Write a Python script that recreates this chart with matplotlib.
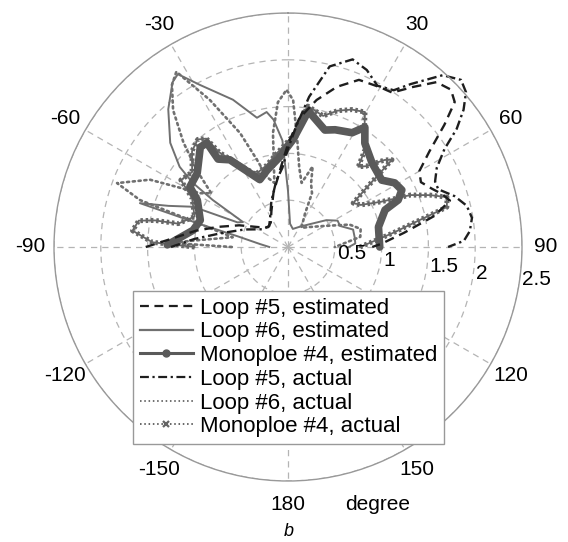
import numpy as np
import matplotlib
matplotlib.use("Agg")
import matplotlib.pyplot as plt
from matplotlib.lines import Line2D

plt.rcParams['font.family'] = ['Liberation Sans', 'DejaVu Sans']

# angles in degrees (0 = up, clockwise), radius
loop5_est_theta = [-90, -86, -80, -74, -66, -56, -45, -35, -25, -15, -5, 0, 5, 11, 17, 23,
                   30, 34, 38, 42, 46, 49, 52, 56, 60, 64, 68, 71, 74, 78, 83, 88, 90]
loop5_est_r = [1.52, 1.25, 1.0, 0.78, 0.57, 0.38, 0.3, 0.32, 0.42, 0.6, 0.86, 1.1, 1.38, 1.6,
               1.79, 1.94, 1.97, 1.99, 2.17, 2.37, 2.42, 2.36, 2.12, 1.82, 1.62, 1.58, 1.66,
               1.74, 1.80, 1.6, 1.25, 1.0, 0.9]

loop5_act_theta = [-90, -85, -78, -68, -55, -42, -30, -20, -10, -4, 0, 4, 8, 13, 19, 24, 29,
                   34, 37, 42, 46, 49, 52, 55, 58, 62, 66, 69, 73, 77, 81, 85, 88, 90]
loop5_act_r = [1.25, 1.0, 0.72, 0.5, 0.33, 0.3, 0.38, 0.52, 0.72, 0.85, 1.05, 1.3, 1.62, 1.98,
               2.12, 2.07, 1.97, 2.02, 2.18, 2.47, 2.57, 2.52, 2.38, 2.2, 1.97, 1.8, 1.72, 1.72,
               1.86, 1.96, 1.99, 1.95, 1.88, 1.71]

loop6_est_theta = [-90, -84, -78, -75.5, -73.5, -71, -67, -64, -61, -58, -56, -53.5, -48.5, -41,
                   -35, -32.5, -28.5, -20.5, -13.5, -9, -6.5, -3, 0, 5, 15, 30, 45, 55, 62, 68,
                   75, 82, 87, 90]
loop6_est_r = [0.2, 0.3, 0.55, 0.95, 1.65, 1.35, 1.1, 0.6, 0.55, 0.95, 1.23, 1.44, 1.68, 1.95,
               2.15, 2.19, 1.97, 1.68, 1.42, 1.46, 1.37, 1.14, 0.6, 0.25, 0.2, 0.25, 0.35, 0.5,
               0.6, 0.6, 0.72, 0.72, 0.72, 0.65]

loop6_act_theta = [-90, -88, -86, -80, -74, -72.4, -69.5, -64, -58.5, -55, -50, -45, -40, -35.6,
                   -32.5, -28, -22.8, -19.6, -16.7, -12, -7.5, -4, -0.5, 2, 4.7, 8, 12, 17, 20,
                   24, 27, 35, 45, 60, 70, 76, 82, 88, 90]
loop6_act_r = [0.6, 1.25, 1.0, 0.6, 1.2, 1.66, 1.95, 1.64, 1.1, 1.0, 1.27, 1.58, 1.91, 2.13,
               2.22, 1.78, 1.32, 0.99, 0.78, 0.7, 1.23, 1.55, 1.68, 1.57, 1.18, 0.86, 0.7, 0.9,
               0.72, 0.63, 0.4, 0.25, 0.3, 0.45, 0.7, 0.8, 0.78, 0.55, 0.5]

mono_est_theta = [-89, -80, -73, -62.7, -58.5, -50.9, -41.3, -37.9, -38.5, -33.7, -22.7, -15.3,
                  -5, 2.7, 8.5, 17.5, 21.9, 29.3, 32.7, 36.5, 45, 54.5, 59, 63.4, 66.9, 69.1,
                  77.5, 90]
mono_est_r = [1.29, 1.03, 0.98, 1.09, 1.23, 1.25, 1.42, 1.41, 1.20, 1.12, 0.78, 0.85, 0.97,
              1.15, 1.47, 1.31, 1.35, 1.40, 1.52, 1.38, 1.27, 1.23, 1.33, 1.36, 1.28, 1.11,
              0.99, 0.98]

mono_act_theta = [-90, -88, -84, -80, -78.7, -78, -72, -63, -58, -52, -45, -40, -37, -36, -30,
                  -24, -15, -6, 3, 8, 15, 20, 25, 29.7, 33, 38.4, 41.2, 44, 48, 50, 53, 56, 60,
                  64, 67, 70, 72.6, 75.9, 78.4, 82.4, 87, 90]
mono_act_r = [1.0, 1.45, 1.67, 1.62, 1.45, 1.2, 1.05, 1.15, 1.35, 1.3, 1.45, 1.5, 1.45, 1.25,
              1.0, 0.85, 0.9, 1.02, 1.2, 1.52, 1.45, 1.55, 1.62, 1.66, 1.5, 1.32, 1.14, 1.2,
              1.39, 1.45, 1.05, 0.84, 0.9, 1.1, 1.42, 1.62, 1.78, 1.75, 1.44, 1.13, 0.88, 0.77]

angle_ticks = [30, 60, 90, 120, 150, 180, -150, -120, -90, -60, -30]
ring_ticks = [0.5, 1, 1.5, 2, 2.5]
legend_labels = ["Loop #5, estimated", "Loop #6, estimated", "Monoploe #4, estimated",
                 "Loop #5, actual", "Loop #6, actual", "Monoploe #4, actual"]

W, H = 568, 542
fig = plt.figure(figsize=(W / 100, H / 100), dpi=100)
cx, cy, R = 288, 247, 234
ax = fig.add_axes([(cx - R) / W, (H - cy - R) / H, 2 * R / W, 2 * R / H], projection='polar')
ax.set_theta_zero_location('N')
ax.set_theta_direction(-1)
ax.set_ylim(0, 2.5)
ax.set_thetagrids(range(0, 360, 30), labels=[''] * 12)
ax.set_rgrids(ring_ticks, labels=[''] * 5)
ax.grid(True, color='#b4b4b4', linestyle=(0, (5, 4)), linewidth=0.9)
ax.spines['polar'].set_color('#999999')
ax.spines['polar'].set_linewidth(1.0)

gray_solid = '#707070'
gray_thick = '#5a5a5a'
gray_x = '#666666'
dark = '#1e1e1e'


def th(a):
    return np.deg2rad(a)


ax.plot(th(loop6_est_theta), loop6_est_r, color=gray_solid, lw=1.4, clip_on=False)
ax.plot(th(loop6_act_theta), loop6_act_r, color='#707070', lw=1.9,
        linestyle=(0, (0.8, 1.4)), dash_capstyle='round', clip_on=False)
# monopole actual: dense chain of crosses drawn as a stippled band
ax.plot(th(mono_act_theta), mono_act_r, color=gray_x, lw=3.6,
        linestyle=(0, (0.5, 0.55)), clip_on=False)
ax.plot(th(mono_act_theta), mono_act_r, color=gray_x, lw=1.3, clip_on=False)
ax.plot(th(mono_est_theta), mono_est_r, color=gray_thick, lw=5.5,
        solid_capstyle='round', solid_joinstyle='round', clip_on=False)
ax.plot(th(loop5_est_theta), loop5_est_r, color=dark, lw=1.7,
        linestyle=(0, (4, 2.5)), clip_on=False)
ax.plot(th(loop5_act_theta), loop5_act_r, color=dark, lw=1.7,
        linestyle=(0, (4, 1.6, 1, 1.6)), clip_on=False)

# angle labels, radius 1.1 * outer ring
for a in angle_ticks:
    ax.text(th(a), 2.75, str(a), ha='center', va='center', fontsize=15, clip_on=False)

# ring labels along 98 degrees
for v in ring_ticks:
    ax.text(th(98), v + 0.025, f"{v:g}", ha='left', va='center', fontsize=15, clip_on=False)

handles = [
    Line2D([], [], color=dark, lw=1.6, linestyle=(0, (4, 2.5))),
    Line2D([], [], color=gray_solid, lw=1.6),
    Line2D([], [], color=gray_thick, lw=2.2, marker='o', markersize=5),
    Line2D([], [], color=dark, lw=1.6, linestyle=(0, (4, 1.6, 1, 1.6))),
    Line2D([], [], color='#707070', lw=1.4, linestyle=(0, (0.8, 1.4))),
    Line2D([], [], color=gray_x, lw=1.4, linestyle=(0, (0.8, 1.4)), marker='x',
           markersize=5, markeredgewidth=1.6),
]
leg = fig.legend(handles, legend_labels, loc='center',
                 bbox_to_anchor=(288.5 / W, 1 - 367.5 / H), bbox_transform=fig.transFigure,
                 fontsize=16, numpoints=1, handlelength=2.4, handletextpad=0.3,
                 labelspacing=0.12, borderpad=0.3, fancybox=False, framealpha=1,
                 edgecolor='#999999')
leg.get_frame().set_linewidth(1.0)

fig.text(378 / W, 1 - 505 / H, 'degree', ha='center', va='center', fontsize=15)
fig.text(289 / W, 1 - 532 / H, 'b', ha='center', va='center', fontsize=13, style='italic')

fig.savefig('out.png', dpi=100)
